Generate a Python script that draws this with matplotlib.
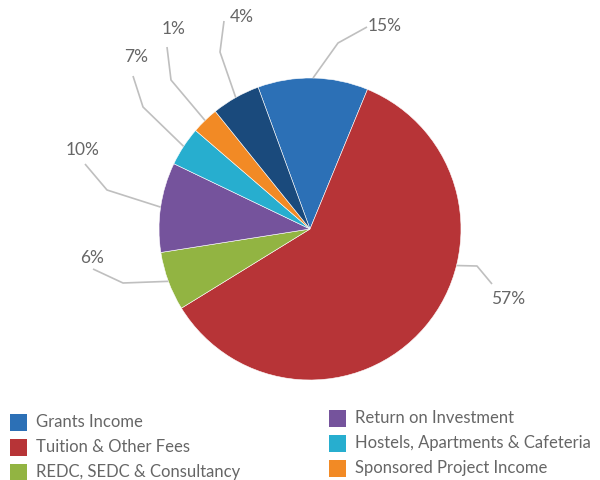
import matplotlib.pyplot as plt
from matplotlib.patches import Rectangle
import numpy as np

# slice sizes (share of the circle, %)
names = ['Grants Income', 'Tuition & Other Fees', 'REDC, SEDC & Consultancy',
         'Return on Investment', 'Hostels, Apartments & Cafeteria',
         'Sponsored Project Income', 'Other']
sizes = [11.8, 60.0, 6.3, 9.6, 4.2, 2.9, 5.2]
pct_labels = ['15%', '57%', '6%', '10%', '7%', '1%', '4%']
colors = ['#2c70b6', '#b73437', '#92b442', '#75539c', '#27aecf', '#f28a25', '#1a4a7c']

# label layout (pixels, y down)
elbows = [(338, 44), (477, 267), (123, 284), (107, 191), (143, 108), (171, 81), (220, 53)]
ends = [(367, 28), (492, 285), (93, 270), (85, 165), (133, 77), (167, 48), (224, 22)]
text_pos = [(385, 26), (508, 299), (92, 258), (83, 150), (136, 57), (174, 29), (242, 17)]
anchor_override = {1: 104.0}  # clockwise-from-top angle where the leader meets the pie

plt.rcParams['font.family'] = ['Lato', 'DejaVu Sans']
txt_col = '#666666'
line_col = '#bfbfbf'

fig = plt.figure(figsize=(6, 4.81), dpi=100)
ax = fig.add_axes([0, 0, 1, 1])

cx, cy, r = 310, 230, 151
wedges, _ = ax.pie(sizes, colors=colors, center=(cx, cy), radius=r,
                   startangle=-110.1, counterclock=True,
                   wedgeprops=dict(edgecolor='white', linewidth=0.4))
ax.set_xlim(0, 600)
ax.set_ylim(481, 0)
ax.axis('off')

# leader lines + percentage labels
for i, w in enumerate(wedges):
    if i in anchor_override:
        phi = np.deg2rad(anchor_override[i] - 90)
    else:
        phi = np.deg2rad((w.theta1 + w.theta2) / 2)
    ax_x = cx + r * np.cos(phi)
    ax_y = cy + r * np.sin(phi)
    xs = [ax_x, elbows[i][0], ends[i][0]]
    ys = [ax_y, elbows[i][1], ends[i][1]]
    ax.plot(xs, ys, color=line_col, lw=1.2, solid_capstyle='butt', zorder=1)
    ax.text(text_pos[i][0], text_pos[i][1], pct_labels[i], fontsize=12.5,
            color=txt_col, ha='center', va='center')

# legend, two columns
col_x = [10, 329]
col_y = [423, 419]
for i in range(6):
    col, row = divmod(i, 3)
    x0 = col_x[col]
    yc = col_y[col] + row * 25
    ax.add_patch(Rectangle((x0, yc - 8), 17, 17, color=colors[i], lw=0))
    ax.text(x0 + 26, yc - 1, names[i], fontsize=12, color=txt_col,
            ha='left', va='center')

plt.savefig('out.png', dpi=100)
